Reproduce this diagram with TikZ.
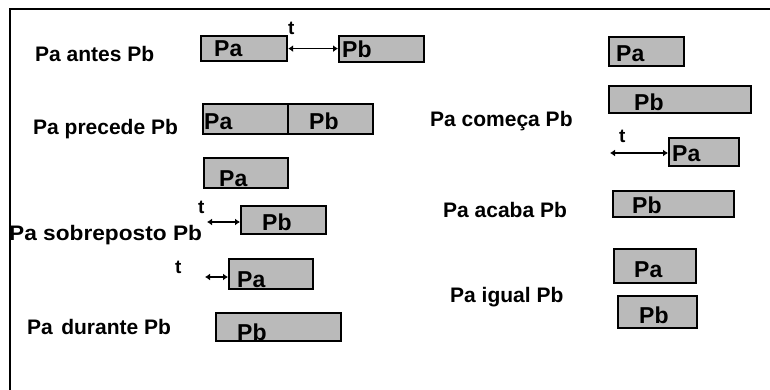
\documentclass[tikz,border=0pt]{standalone}
\usepackage{fontspec}
\setmainfont{Liberation Sans}
\usetikzlibrary{arrows.meta}
\begin{document}
\begin{tikzpicture}[x=1pt,y=-1pt,
  txt/.style={font=\fontsize{21}{25}\selectfont\bfseries, inner sep=0pt, anchor=base west},
  blab/.style={font=\fontsize{23}{27}\selectfont\bfseries, inner sep=0pt, anchor=base west},
  tlab/.style={font=\fontsize{19}{23}\selectfont\bfseries, inner sep=0pt, anchor=base west},
  interval/.style={draw=black, line width=2.2pt, fill=black!27, anchor=north west, inner sep=0pt},
  tarrow/.style={line width=1.6pt, {Latex[length=5pt,width=7pt]}-{Latex[length=5pt,width=7pt]}}
]
\useasboundingbox (0,0) rectangle (770,390);
\fill[white] (0,0) rectangle (770,390);
% frame
\draw[line width=2.4pt] (10,390) -- (10,9) -- (770,9);

% interval boxes
\node[interval, minimum width=86pt, minimum height=25pt] (paA) at (200,35) {};
\node[interval, minimum width=85pt, minimum height=26pt] (pbA) at (338,35) {};
\node[interval, minimum width=85pt, minimum height=30pt] (paB) at (202,103) {};
\node[interval, minimum width=85pt, minimum height=30pt] (pbB) at (287,103) {};
\node[interval, minimum width=84pt, minimum height=30pt] (paC) at (203,157) {};
\node[interval, minimum width=85pt, minimum height=28pt] (pbD) at (240,205) {};
\node[interval, minimum width=84pt, minimum height=30pt] (paE) at (228,258) {};
\node[interval, minimum width=125pt, minimum height=28pt] (pbF) at (215,312) {};
\node[interval, minimum width=75pt, minimum height=29pt] (paG) at (608,36) {};
\node[interval, minimum width=142pt, minimum height=27pt] (pbH) at (608,85) {};
\node[interval, minimum width=70pt, minimum height=28pt] (paI) at (668,137) {};
\node[interval, minimum width=121pt, minimum height=26pt] (pbJ) at (612,190) {};
\node[interval, minimum width=82pt, minimum height=34pt] (paK) at (613,248) {};
\node[interval, minimum width=79pt, minimum height=32pt] (pbL) at (617,295) {};

% box labels
\node[blab] (lpaA) at (214,57) {Pa};
\node[blab] (lpbA) at (342,58) {Pb};
\node[blab] (lpaB) at (204,130) {Pa};
\node[blab] (lpbB) at (309,130) {Pb};
\node[blab] (lpaC) at (219,186) {Pa};
\node[blab] (lpbD) at (262,230) {Pb};
\node[blab] (lpaE) at (237,287) {Pa};
\node[blab] (lpbF) at (237,340) {Pb};
\node[blab] (lpaG) at (616,62) {Pa};
\node[blab] (lpbH) at (634,111) {Pb};
\node[blab] (lpaI) at (672,162) {Pa};
\node[blab] (lpbJ) at (632,213) {Pb};
\node[blab] (lpaK) at (634,277) {Pa};
\node[blab] (lpbL) at (639,323) {Pb};

% relation names
\node[txt] (tA) at (35,62) {Pa antes Pb};
\node[txt] (tB) at (33,135) {Pa precede Pb};
\node[txt] (tC) at (9,240) {\scalebox{1.08}[1]{Pa sobreposto Pb}};
\node[txt] (tF) at (27,334) {Pa\hspace{0.4em}durante Pb};
\node[txt] (tG) at (430,127) {Pa começa Pb};
\node[txt] (tJ) at (443,217) {Pa acaba Pb};
\node[txt] (tK) at (450,302) {Pa igual Pb};

% t labels
\node[tlab] (t1) at (288,35) {t};
\node[tlab] (t2) at (198,213) {t};
\node[tlab] (t3) at (175,273) {t};
\node[tlab] (t4) at (619,143) {t};

% connectors
\coordinate (cD) at (207,222);
\coordinate (cE) at (205,277);
\coordinate (cI) at (610,153);
\draw[tarrow] (paA.east) -- (pbA.west |- paA.east);
\draw[tarrow] (cD) -- (cD -| pbD.west);
\draw[tarrow] (cE) -- (cE -| paE.west);
\draw[tarrow] (cI) -- (cI -| paI.west);
\end{tikzpicture}
\end{document}
